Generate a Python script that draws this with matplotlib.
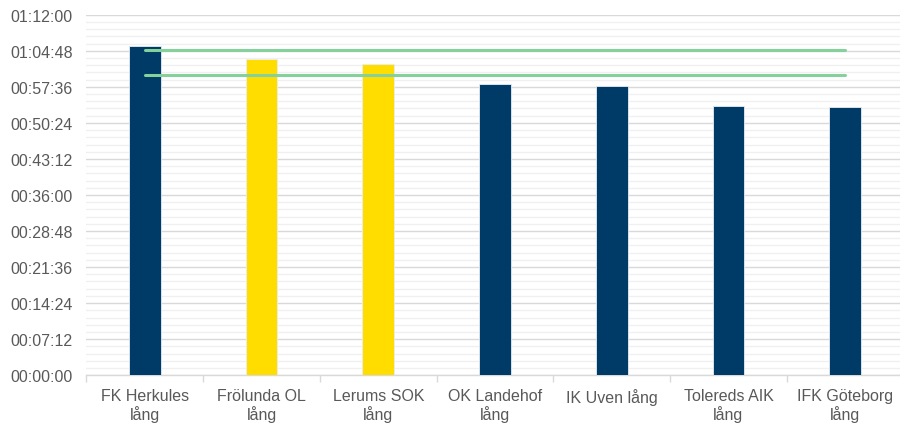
import matplotlib
matplotlib.use("Agg")
import matplotlib.pyplot as plt
from matplotlib.ticker import FuncFormatter, MultipleLocator

plt.rcParams['font.family'] = ['Liberation Sans', 'DejaVu Sans']

# Data (seconds)
clubs = ["FK Herkules\nlång", "Frölunda OL\nlång", "Lerums SOK\nlång",
         "OK Landehof\nlång", "IK Uven lång", "Tolereds AIK\nlång",
         "IFK Göteborg\nlång"]
times = [3944, 3785, 3725, 3485, 3464, 3224, 3212]
highlight = [False, True, True, False, False, False, False]
upper_line = [3893] * len(clubs)
lower_line = [3596] * len(clubs)

navy = "#003A66"
yellow = "#FFDD00"
green = "#84D19C"
text_gray = "#595959"


def fmt_time(v, pos):
    v = int(round(v))
    return "%02d:%02d:%02d" % (v // 3600, (v % 3600) // 60, v % 60)


fig = plt.figure(figsize=(9, 4.27), dpi=100)
ax = fig.add_axes([0.096, 0.119, 0.908, 0.844])

x = list(range(len(clubs)))
colors = [yellow if h else navy for h in highlight]
ax.bar(x, times, width=0.27, color=colors, edgecolor="#E8EEF3",
       linewidth=0.6, zorder=3)
ax.plot(x, upper_line, color=green, linewidth=2.2, solid_capstyle="round", zorder=4)
ax.plot(x, lower_line, color=green, linewidth=2.2, solid_capstyle="round", zorder=4)

ax.set_xlim(-0.5, len(clubs) - 0.5)
ax.set_ylim(0, 4320)
ax.yaxis.set_major_locator(MultipleLocator(432))
ax.yaxis.set_minor_locator(MultipleLocator(86.4))
ax.yaxis.set_major_formatter(FuncFormatter(fmt_time))
ax.grid(axis="y", which="major", color="#D9D9D9", linewidth=1.0, zorder=0)
ax.grid(axis="y", which="minor", color="#F0F0F0", linewidth=1.0, zorder=0)
ax.set_axisbelow(True)

ax.set_xticks(x)
ax.set_xticklabels(clubs)
ax.set_xticks([i - 0.5 for i in range(len(clubs) + 1)], minor=True)
ax.tick_params(axis="x", which="major", length=0, pad=9,
               labelsize=11.5, labelcolor=text_gray)
ax.tick_params(axis="x", which="minor", length=5, color="#D9D9D9", width=1)
ax.tick_params(axis="y", which="both", length=0, pad=10,
               labelsize=11.5, labelcolor=text_gray)
for lbl in ax.get_xticklabels():
    lbl.set_linespacing(1.15)

for side in ["top", "right", "left"]:
    ax.spines[side].set_visible(False)
ax.spines["bottom"].set_color("#D9D9D9")
ax.spines["bottom"].set_linewidth(1.0)

fig.savefig("out.png", dpi=100)
